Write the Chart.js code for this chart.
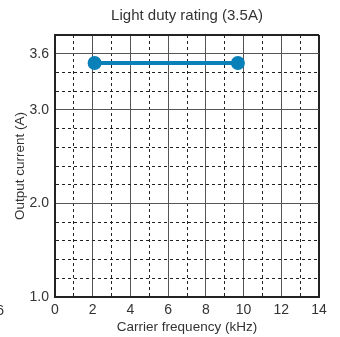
<!DOCTYPE html>
<html>
<head>
<meta charset="utf-8">
<style>
  html, body { margin: 0; padding: 0; background: #fff; }
  #wrap { width: 340px; height: 337px; }
</style>
<script src="https://cdn.jsdelivr.net/npm/chart.js@4/dist/chart.umd.min.js"></script>
</head>
<body>
<div id="wrap"><canvas id="chart"></canvas></div>
<script>
// data
const freqKHz = [2.1, 9.7];
const currentA = [3.5, 3.5];
const yLabels = [1.0, 2.0, 3.0, 3.6];
const xLabels = [0, 2, 4, 6, 8, 10, 12, 14];

const textColor = '#333';
const font = 'Liberation Sans, Arial, sans-serif';

function hasLabel(list, v) {
    return list.some(t => Math.abs(t - v) < 1e-6);
}

// the stray "6" clipped at the left edge of the picture
const strayText = {
    id: 'strayText',
    afterDraw(chart) {
        const ctx = chart.ctx;
        ctx.save();
        ctx.fillStyle = textColor;
        ctx.font = '14px ' + font;
        ctx.textAlign = 'right';
        ctx.textBaseline = 'middle';
        ctx.fillText('6', 4, 311);
        ctx.restore();
    }
};

const data = {
    datasets: [{
        label: 'Light duty',
        data: freqKHz.map((x, i) => ({ x: x, y: currentA[i] })),
        borderColor: '#0a80b9',
        backgroundColor: '#0a80b9',
        borderWidth: 4,
        pointRadius: 5,
        pointHoverRadius: 5,
        clip: false
    }]
};

const config = {
    type: 'line',
    data: data,
    options: {
        responsive: true,
        maintainAspectRatio: false,
        animation: false,
        layout: { padding: { left: 0, right: 21, top: 0, bottom: 0 } },
        plugins: {
            legend: { display: false },
            tooltip: { enabled: false },
            title: {
                display: true,
                fullSize: false,
                text: 'Light duty rating (3.5A)',
                color: textColor,
                font: { family: font, size: 15, weight: 'normal' },
                padding: { top: 7, bottom: 10 }
            }
        },
        scales: {
            x: {
                type: 'linear',
                min: 0,
                max: 14,
                afterFit: s => { s.height = 40; },
                ticks: {
                    stepSize: 1,
                    autoSkip: false,
                    maxRotation: 0,
                    padding: 5,
                    color: textColor,
                    font: { family: font, size: 14 },
                    callback: v => hasLabel(xLabels, v) ? String(v) : ''
                },
                grid: {
                    drawTicks: false,
                    color: c => c.tick && c.tick.value === 14 ? '#222' : (c.tick && c.tick.value % 2 === 0 ? '#555' : '#222'),
                    lineWidth: c => c.tick && c.tick.value === 14 ? 2 : 1
                },
                border: {
                    color: '#222',
                    width: 2,
                    dash: c => c.tick && c.tick.value % 2 !== 0 ? [3, 3] : []
                },
                title: {
                    display: true,
                    text: 'Carrier frequency (kHz)',
                    color: textColor,
                    font: { family: font, size: 13.5 },
                    padding: { top: 0, bottom: 2 }
                }
            },
            y: {
                type: 'linear',
                min: 1.0,
                max: 3.8,
                afterFit: s => { s.width = 55; },
                ticks: {
                    stepSize: 0.2,
                    autoSkip: false,
                    padding: 6,
                    color: textColor,
                    font: { family: font, size: 14 },
                    callback: v => hasLabel(yLabels, v) ? v.toFixed(1) : ''
                },
                grid: {
                    drawTicks: false,
                    color: c => {
                        if (!c.tick) return '#222';
                        if (Math.abs(c.tick.value - 3.8) < 1e-6) return '#222';
                        return hasLabel(yLabels, c.tick.value) ? '#555' : '#222';
                    },
                    lineWidth: c => c.tick && Math.abs(c.tick.value - 3.8) < 1e-6 ? 2 : 1
                },
                border: {
                    color: '#222',
                    width: 2,
                    dash: c => {
                        if (!c.tick) return [];
                        const v = c.tick.value;
                        if (hasLabel(yLabels, v) || Math.abs(v - 3.8) < 1e-6) return [];
                        return [3, 3];
                    }
                },
                title: {
                    display: true,
                    text: 'Output current (A)',
                    color: textColor,
                    font: { family: font, size: 13.5 },
                    padding: { top: 12, bottom: 0 }
                }
            }
        }
    },
    plugins: [strayText]
};

new Chart(document.getElementById('chart'), config);
</script>
</body>
</html>
